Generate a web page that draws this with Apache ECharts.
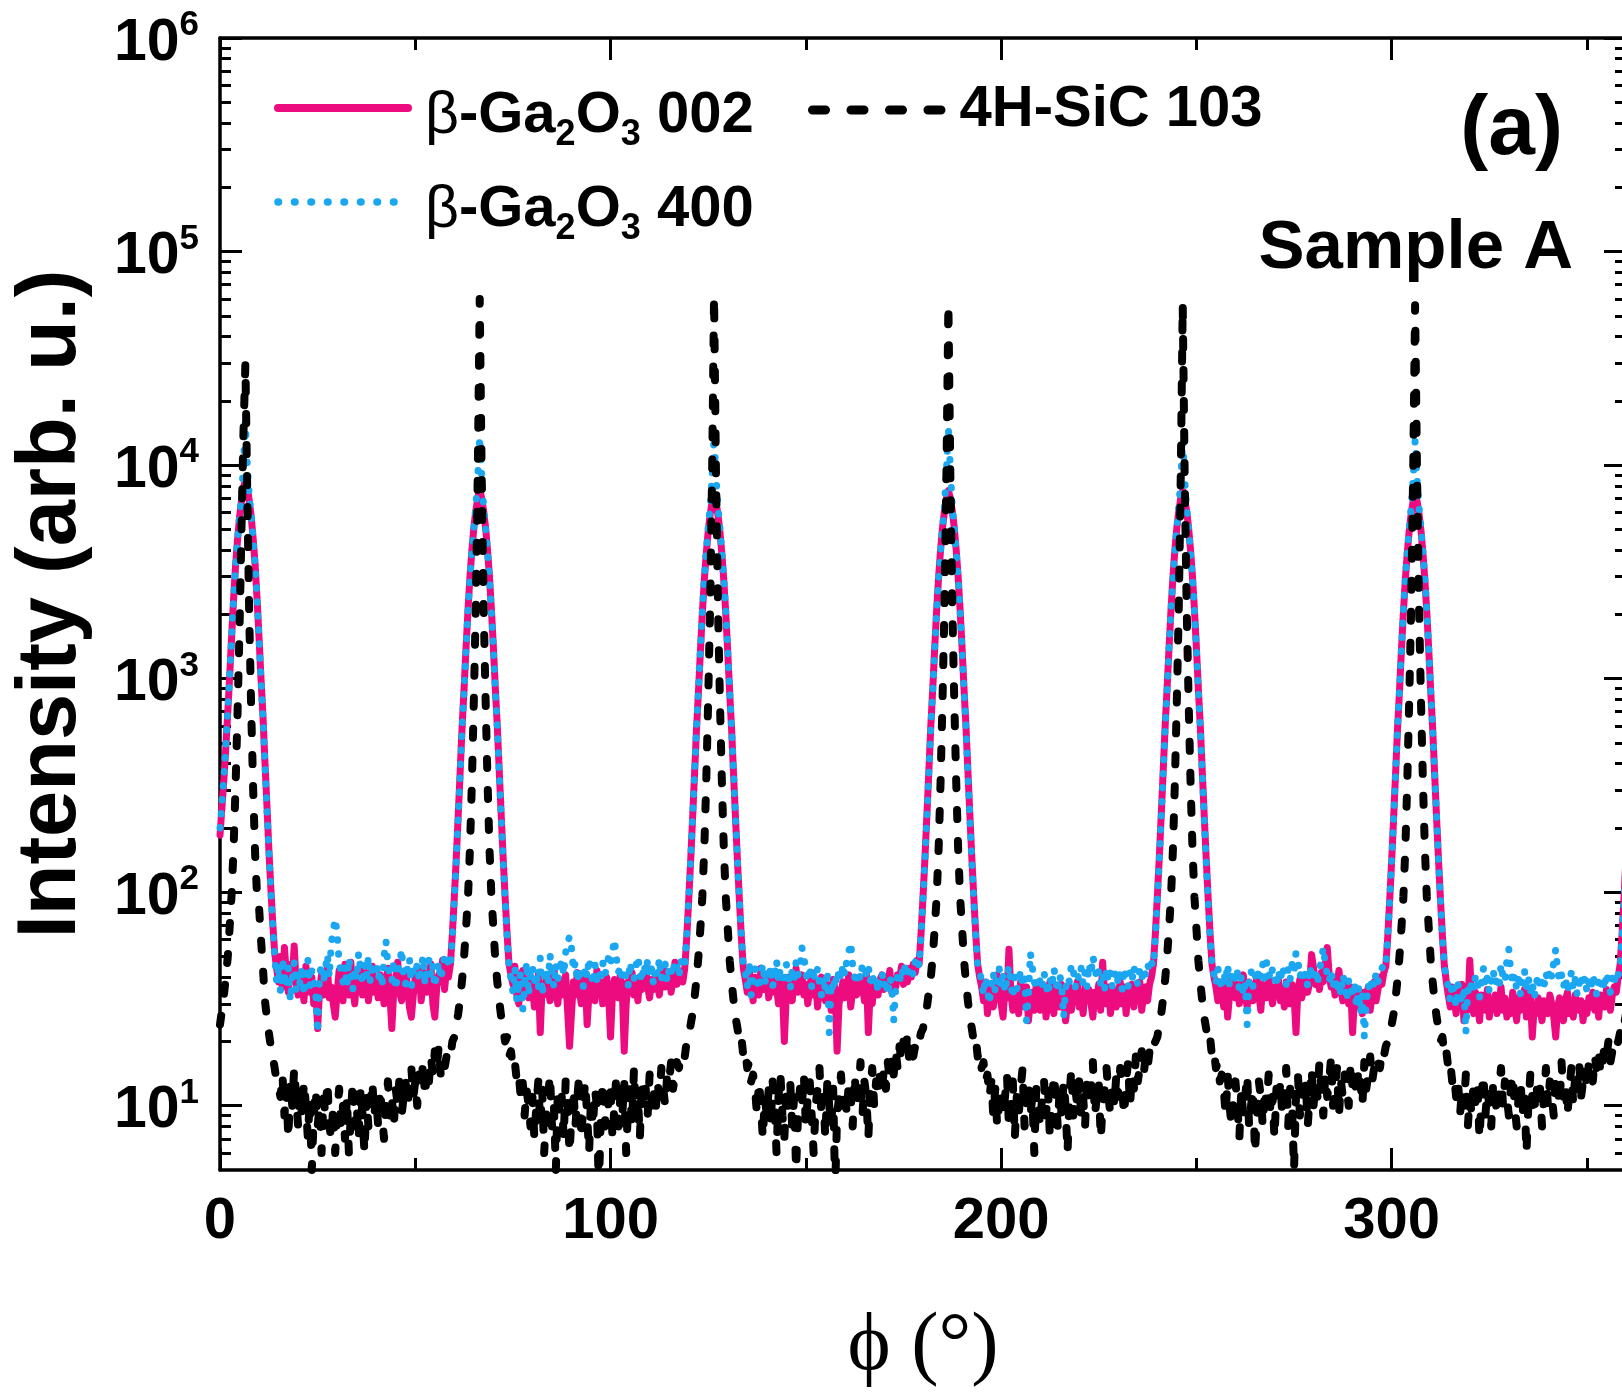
<!DOCTYPE html>
<html>
<head>
<meta charset="utf-8">
<script src="https://cdn.jsdelivr.net/npm/echarts@6/dist/echarts.min.js"></script>
<style>
html,body{margin:0;padding:0;background:#fff;}
#chart{width:1622px;height:1400px;}
</style>
</head>
<body>
<div id="chart"></div>
<script>
// phi scan grid step (degrees); point i sits at phi = i * PHI_STEP
const PHI_STEP = 0.5;

// beta-Ga2O3 002 (pink solid)
const ga002 = [
185,250,340,480,700,1050,1600,2400,3400,4500,5700,6800,7800,8500,7800,6800,5700,4500,3400,2350,
1550,1000,670,410,260,160,106,72,52,44,38,50,36,55,41,34,46,39,56,37,
33,42,36,31,45,38,34,40,30,37,23,35,41,33,38,44,32,36,30,26,
34,43,37,31,46,39,33,47,36,30,40,35,44,33,38,42,31,37,45,34,
39,32,41,36,30,38,44,33,23,35,40,47,34,31,39,43,36,29,26,33,
40,35,44,31,37,42,34,39,46,30,26,36,41,38,48,35,44,40,46,64,
95,145,230,370,600,900,1400,2100,3000,4000,5100,6100,7000,7700,7000,6100,5100,4000,3000,2100,
1400,900,600,370,230,145,95,64,46,41,37,45,33,30,39,43,35,38,32,40,
36,29,34,41,22,37,33,40,35,31,38,44,34,30,39,36,33,41,28,19,
27,38,33,42,35,30,37,41,24,34,39,36,31,43,35,38,30,36,40,33,
21,34,39,37,32,41,35,18,30,38,36,42,33,37,31,40,35,38,44,36,
32,39,35,41,37,33,40,45,36,38,42,34,39,47,37,43,40,38,44,61,
91,139,221,355,576,864,1340,2020,2880,3840,4900,5860,6720,7300,6720,5860,4900,3840,2880,2020,
1340,864,576,355,221,139,91,61,44,39,34,43,37,31,40,36,33,44,38,35,
41,32,37,34,42,36,30,39,35,20,33,40,37,31,38,44,34,36,41,33,
37,30,35,42,33,38,29,36,40,34,31,37,33,28,39,35,18,30,34,38,
32,36,41,29,35,38,33,40,34,37,31,42,22,35,30,38,36,33,39,41,
35,40,37,43,34,38,36,41,39,45,37,42,38,44,40,46,42,48,46,64,
95,145,230,370,600,900,1400,2100,3000,4000,5100,6100,7000,7600,7000,6100,5100,4000,3000,2100,
1400,900,600,370,230,145,95,64,46,40,36,31,38,27,35,33,29,37,41,34,
30,26,36,32,54,34,28,35,31,27,38,33,29,36,25,31,34,28,37,32,
28,33,36,26,31,38,30,27,35,32,29,37,33,25,30,36,28,34,31,38,
29,33,27,36,31,35,30,26,34,32,37,28,47,33,30,36,27,32,35,29,
33,38,30,36,27,34,31,37,29,35,32,38,28,33,36,31,37,40,46,64,
95,145,230,370,600,900,1400,2100,3000,4000,5100,6100,7000,7600,7000,6100,5100,4000,3000,2100,
1400,900,600,370,230,145,95,64,46,40,36,31,38,34,29,37,26,33,39,35,
32,37,30,35,41,33,29,38,34,31,36,40,33,28,37,35,32,39,34,30,
36,33,39,31,35,29,38,34,30,37,33,22,35,39,32,36,40,34,38,51,
44,37,40,35,42,38,46,55,41,36,39,33,37,43,35,31,38,34,30,36,
22,33,29,35,31,27,34,30,36,28,33,38,31,35,40,37,42,45,62,92,
141,223,359,582,873,1360,2040,2910,3880,4950,5920,6790,7400,6790,5920,4950,3880,2910,2040,1360,
873,582,359,223,141,92,62,45,38,33,29,36,31,27,34,30,37,25,32,28,
48,31,27,34,29,25,33,30,28,35,26,31,29,33,27,30,36,28,32,26,
30,27,34,29,25,32,28,31,35,26,30,33,21,29,27,32,28,25,31,29,
27,33,30,26,21,29,32,28,25,31,34,27,30,26,33,29,28,31,25,30,
27,32,29,34,28,31,26,33,30,29,35,31,28,33,36,34,40,46,64,95,
145
];

// beta-Ga2O3 400 (blue dotted)
const ga400 = [
200,260,350,490,710,1060,1600,2400,3400,4500,5800,7100,10000,16000,10000,7100,5800,4500,3400,2350,
1550,1000,660,400,250,160,104,70,50,38,45,34,49,41,36,44,31,39,47,35,
42,37,45,33,40,48,36,43,39,34,22,41,46,38,44,51,40,58,66,75,
64,47,42,38,45,36,49,41,35,44,39,52,43,37,46,40,50,38,44,41,
47,39,43,36,50,59,45,41,38,48,35,42,46,54,40,37,44,49,36,43,
41,46,38,44,50,37,43,48,40,45,36,42,47,39,44,50,46,48,45,62,
92,140,225,360,590,880,1380,2080,2950,3950,5100,6400,8800,13500,8800,6400,5100,3950,2950,2080,
1380,880,590,360,225,140,92,62,45,39,34,44,31,37,42,28,36,47,33,40,
45,38,42,35,49,33,40,44,37,51,41,36,46,39,43,48,41,52,58,62,
55,43,47,38,44,41,36,45,40,49,42,37,46,39,43,38,47,41,44,50,
46,53,60,49,42,45,38,44,40,36,47,41,39,45,50,43,38,46,42,48,
40,44,37,45,41,49,39,43,46,38,44,41,47,42,45,40,48,44,45,62,
92,140,225,360,590,880,1380,2080,2950,3950,5100,6400,8800,13500,8800,6400,5100,3950,2950,2080,
1380,880,590,360,225,140,92,62,45,42,36,47,33,40,44,38,35,41,46,37,
43,39,45,36,41,48,38,44,40,37,46,42,35,43,39,47,41,44,55,50,
42,38,45,36,41,39,44,37,33,40,35,43,22,38,34,41,37,44,39,46,
41,48,53,58,45,40,37,43,39,46,44,41,45,38,42,36,40,34,38,42,
36,39,33,40,37,25,35,41,38,44,40,46,42,43,45,41,47,50,45,62,
92,140,225,360,590,880,1380,2080,2950,3950,5100,6400,9500,15000,9500,6400,5100,3950,2950,2080,
1380,880,590,360,225,140,92,62,45,43,38,33,40,35,30,37,42,34,39,44,
36,41,34,39,45,37,32,40,35,38,43,36,42,25,33,52,44,38,35,41,
38,35,42,37,33,40,36,44,39,34,41,37,26,35,40,38,46,43,36,41,
39,44,37,42,36,46,41,50,45,39,43,37,41,35,44,38,42,36,40,43,
37,41,35,44,39,36,42,38,45,40,37,43,39,44,41,46,43,47,45,62,
92,140,225,360,590,880,1380,2080,2950,3950,5100,6400,8600,13000,8600,6400,5100,3950,2950,2080,
1380,880,590,360,225,140,92,62,45,41,37,44,39,35,42,38,46,36,40,43,
38,42,35,40,33,37,24,39,43,36,41,38,44,40,46,37,47,42,39,44,
40,36,43,38,45,41,37,44,39,46,42,52,48,40,44,38,42,36,45,41,
39,44,37,43,48,55,46,41,38,43,36,40,34,38,33,41,37,31,39,35,
32,38,29,36,27,33,21,30,37,34,40,36,42,38,41,44,46,45,62,92,
140,225,360,590,880,1380,2080,2950,3950,5100,6400,8600,13000,8600,6400,5100,3950,2950,2080,1380,
880,590,360,225,140,92,62,45,40,36,31,38,34,29,37,33,30,36,22,35,
33,39,35,41,37,32,38,44,36,40,34,39,43,37,41,35,46,40,38,48,
54,42,37,41,35,39,33,38,43,36,40,34,38,32,37,41,35,39,36,42,
38,44,40,47,54,43,38,41,36,40,34,38,42,35,39,33,37,41,36,40,
34,38,35,41,37,33,39,36,40,35,42,38,34,40,37,43,41,45,62,92,
140
];

// 4H-SiC 103 (black dashed)
const sic103 = [
24,28,33,40,50,70,100,165,320,700,1700,5000,14000,30000,7000,1900,700,300,150,95,
85,60,44,31,26,22,19,17,15,13,12,11,14,9,12,7,13,10,15,11,
8,12,9,13,10,7,11,5,9,12,8,10,6,11,9,13,8,7,10,6,
9,12,8,10,7,11,6,9,13,8,10,7,12,9,6,11,8,10,13,9,
11,8,12,9,7,10,13,9,11,8,12,10,14,9,11,13,10,12,15,11,
13,10,14,12,16,11,15,13,17,14,18,15,19,14,16,15,17,18,17,20,
21,24,27,32,39,50,68,95,160,330,800,2200,9000,60000,9000,2200,800,330,160,95,
68,48,38,31,26,23,20,21,17,18,15,16,13,14,11,13,9,12,10,8,
11,7,10,13,8,12,6,9,11,14,8,10,5,12,9,11,7,13,10,6,
9,12,8,11,14,7,10,13,9,6,11,8,12,10,4,9,13,8,11,10,
12,7,10,14,8,11,9,13,6,10,12,8,15,9,11,7,13,10,12,9,
14,10,12,9,13,11,15,12,10,14,13,16,12,14,16,15,17,18,17,20,
21,24,27,32,39,50,68,95,160,330,800,2200,9000,62000,9000,2200,800,330,160,95,
68,48,38,31,26,23,20,21,17,18,15,16,13,14,12,9,13,10,7,11,
9,12,8,13,10,6,11,14,9,7,12,10,13,8,11,5,9,12,10,14,
8,11,13,9,6,10,12,15,9,11,7,13,10,8,12,4,9,11,14,10,
12,9,13,11,8,14,10,12,16,9,13,11,7,12,15,10,13,11,14,12,
15,12,16,13,17,14,18,15,19,16,20,17,22,16,18,17,19,21,20,22,
23,26,29,34,40,50,68,95,160,330,800,2200,9000,57000,9000,2200,800,330,160,95,
68,48,38,31,26,23,20,21,17,18,15,16,13,14,11,13,9,12,8,10,
12,9,11,14,8,10,13,7,11,9,12,15,8,10,13,9,11,6,12,10,
8,11,13,9,12,7,10,14,11,8,12,9,13,10,6,11,15,9,12,10,
13,9,11,8,14,10,12,16,9,11,13,7,10,12,15,11,9,13,10,14,
11,15,12,9,13,16,10,14,12,17,13,15,18,14,17,15,18,17,19,20,
21,24,27,32,39,50,68,95,160,330,800,2200,9000,57000,9000,2200,800,330,160,95,
68,48,38,31,26,23,20,21,17,18,15,16,13,14,12,9,14,10,8,11,
13,10,7,12,9,11,14,8,10,12,6,9,13,11,8,12,10,14,9,11,
7,12,10,13,9,11,15,8,12,10,5,11,14,9,12,10,13,8,11,15,
10,13,11,16,12,9,14,11,13,17,10,12,15,9,13,11,14,12,10,16,
12,14,11,15,13,10,16,12,14,17,13,15,14,16,15,18,17,19,20,22,
24,27,32,39,50,68,95,160,330,800,2200,9000,56000,9000,2200,800,330,160,95,68,
48,38,31,26,23,20,21,17,18,15,16,13,14,11,13,9,12,10,14,8,
11,9,13,10,12,7,11,14,9,12,10,8,13,11,9,12,15,10,13,11,
9,12,14,10,8,11,13,9,12,6,10,14,11,9,13,10,12,8,11,15,
10,13,11,9,14,12,10,16,11,13,9,12,15,10,14,12,16,11,13,15,
12,16,14,13,17,15,18,14,16,19,17,20,16,18,17,19,20,22,21,24,
27
];

// axis ticks and labels
const xTicksMajor = [0, 100, 200, 300];
const xTicksMinor = [50, 150, 250, 350];
const yTicksMajor = [10, 100, 1000, 10000, 100000, 1000000];
const yTicksMinor = [6, 7, 8, 9, 20, 30, 40, 50, 60, 70, 80, 90,
  200, 300, 400, 500, 600, 700, 800, 900,
  2000, 3000, 4000, 5000, 6000, 7000, 8000, 9000,
  20000, 30000, 40000, 50000, 60000, 70000, 80000, 90000,
  200000, 300000, 400000, 500000, 600000, 700000, 800000, 900000];
const seriesNames = ['β-Ga2O3 002', 'β-Ga2O3 400', '4H-SiC 103'];
const X_MIN = 0, X_MAX = 360, Y_MIN = 5, Y_MAX = 1000000;

const PINK = '#EC0C80', BLUE = '#1AA6F0';
const FONT = '"Liberation Sans", Arial, sans-serif';
const toPairs = arr => arr.map((v, i) => [i * PHI_STEP, v]);

const tickLine = { color: '#000', width: 3 };
function xAx(pos, ticks, len, main) {
  return {
    type: 'value', min: X_MIN, max: X_MAX, position: pos,
    axisLine: { show: main, onZero: false, lineStyle: { color: '#000', width: 3.5 } },
    axisTick: { show: true, inside: true, length: len, customValues: ticks, lineStyle: tickLine },
    axisLabel: (main && pos === 'bottom') ? {
      show: true, customValues: xTicksMajor, fontSize: 58, fontWeight: 'bold',
      fontFamily: FONT, color: '#000', margin: 23
    } : { show: false },
    splitLine: { show: false },
    ...(main && pos === 'bottom' ? {
      name: 'ϕ (°)', nameLocation: 'middle', nameGap: 136,
      nameTextStyle: { fontFamily: '"Liberation Serif", "DejaVu Serif", serif', fontSize: 82, color: '#000' }
    } : {})
  };
}
function yAx(pos, ticks, len, main) {
  return {
    type: 'log', logBase: 10, min: Y_MIN, max: Y_MAX, position: pos,
    axisLine: { show: main, onZero: false, lineStyle: { color: '#000', width: 3.5 } },
    axisTick: { show: true, inside: true, length: len, customValues: ticks, lineStyle: tickLine },
    axisLabel: (main && pos === 'left') ? {
      show: true, customValues: yTicksMajor, margin: 21,
      formatter: v => '{b|10}{s|' + Math.round(Math.log10(v)) + '}',
      rich: {
        b: { fontSize: 59, fontWeight: 'bold', fontFamily: FONT, color: '#000', lineHeight: 60, verticalAlign: 'top', padding: [6, 0, 0, 0] },
        s: { fontSize: 35, fontWeight: 'bold', fontFamily: FONT, color: '#000', lineHeight: 32, verticalAlign: 'top' }
      }
    } : { show: false },
    splitLine: { show: false },
    minorSplitLine: { show: false },
    ...(main && pos === 'left' ? {
      name: 'Intensity (arb. u.)', nameLocation: 'middle', nameGap: 126, nameRotate: 90,
      nameTextStyle: { fontFamily: FONT, fontSize: 83, fontWeight: 'bold', color: '#000' }
    } : {})
  };
}

const legendRich = {
  g: { fontFamily: FONT, fontSize: 59, fontWeight: 'normal', color: '#000', lineHeight: 58, padding: [8, 0, 8, 12], verticalAlign: 'top' },
  b: { fontFamily: FONT, fontSize: 58, fontWeight: 'bold', color: '#000', lineHeight: 58, padding: [8, 0, 8, 0], verticalAlign: 'top' },
  s: { fontFamily: FONT, fontSize: 36, fontWeight: 'bold', color: '#000', lineHeight: 36, padding: [38, 0, 0, 0], verticalAlign: 'top' }
};
function gaLabel(name) {
  const hkl = name.split(' ')[1];
  return '{g|β}{b|-Ga}{s|2}{b|O}{s|3}{b| ' + hkl + '}';
}

const chart = echarts.init(document.getElementById('chart'), null, { renderer: 'canvas' });
chart.setOption({
  animation: false,
  backgroundColor: '#fff',
  textStyle: { fontFamily: FONT },
  grid: { left: 220, top: 38, width: 1406, height: 1132, containLabel: false, outerBoundsMode: 'none' },
  xAxis: [
    xAx('bottom', xTicksMajor, 22, true),
    xAx('bottom', xTicksMinor, 12, false),
    xAx('top', xTicksMajor, 22, true),
    xAx('top', xTicksMinor, 12, false)
  ],
  yAxis: [
    yAx('left', yTicksMajor, 22, true),
    yAx('left', yTicksMinor, 11, false),
    yAx('right', yTicksMajor, 22, true),
    yAx('right', yTicksMinor, 11, false)
  ],
  legend: [
    {
      data: [
        { name: seriesNames[0], lineStyle: { color: PINK, width: 8, type: 'solid', cap: 'round' } },
        { name: seriesNames[1], lineStyle: { color: BLUE, width: 7.5, type: [0.5, 16], cap: 'round' } }
      ],
      orient: 'vertical', left: 274, top: 79,
      itemWidth: 130, itemHeight: 10, itemGap: 19, padding: 0, selectedMode: false,
      itemStyle: { opacity: 0 },
      lineStyle: { width: 8, cap: 'round' },
      formatter: gaLabel,
      textStyle: { rich: legendRich }
    },
    {
      data: [{ name: seriesNames[2], lineStyle: { color: '#000', width: 9, type: [13, 25.5], cap: 'round' } }],
      orient: 'horizontal', left: 808, top: 80,
      itemWidth: 130, itemHeight: 10, padding: 0, selectedMode: false,
      itemStyle: { opacity: 0 },
      lineStyle: { width: 9, type: [13, 25.5], cap: 'round' },
      textStyle: { fontFamily: FONT, fontSize: 58, fontWeight: 'bold', color: '#000', lineHeight: 60, padding: [0, 0, 0, 12] }
    }
  ],
  graphic: [
    { type: 'text', x: 1563, y: 131, style: { text: '(a)', font: 'bold 84px ' + FONT, align: 'right', verticalAlign: 'middle', fill: '#000' } },
    { type: 'text', x: 1573, y: 249, style: { text: 'Sample A', font: 'bold 69px ' + FONT, align: 'right', verticalAlign: 'middle', fill: '#000' } }
  ],
  series: [
    {
      name: seriesNames[0], type: 'line', data: toPairs(ga002), xAxisIndex: 0, yAxisIndex: 0,
      symbol: 'none', showSymbol: false, clip: true, z: 2,
      lineStyle: { color: PINK, width: 7, join: 'round', cap: 'round' },
      itemStyle: { color: PINK }
    },
    {
      name: seriesNames[1], type: 'line', data: toPairs(ga400), xAxisIndex: 0, yAxisIndex: 0,
      symbol: 'none', showSymbol: false, clip: true, z: 3,
      lineStyle: { color: BLUE, width: 7, type: [0.5, 13.5], cap: 'round', join: 'round' },
      itemStyle: { color: BLUE }
    },
    {
      name: seriesNames[2], type: 'line', data: toPairs(sic103), xAxisIndex: 0, yAxisIndex: 0,
      symbol: 'none', showSymbol: false, clip: true, z: 4,
      lineStyle: { color: '#000', width: 8, type: [9, 22], cap: 'round', join: 'round' },
      itemStyle: { color: '#000' }
    }
  ]
});
</script>
</body>
</html>
